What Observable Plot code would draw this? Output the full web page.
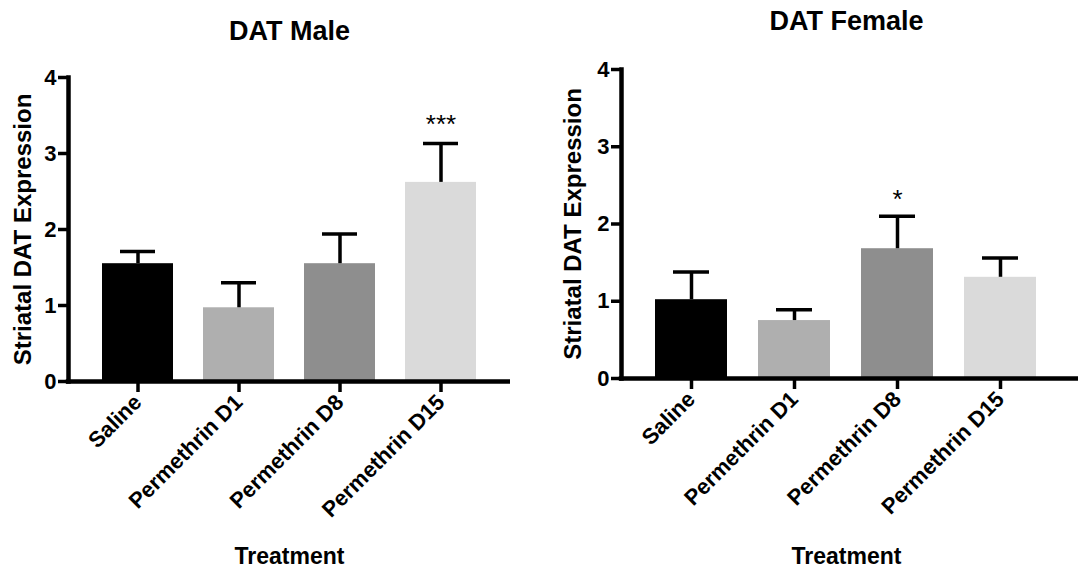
<!DOCTYPE html>
<html><head><meta charset="utf-8">
<script src="https://cdn.jsdelivr.net/npm/d3@7"></script>
<script src="https://cdn.jsdelivr.net/npm/@observablehq/plot@0.6"></script>
<style>
body{margin:0;width:1078px;height:567px;overflow:hidden;background:#fff;position:relative;font-family:"Liberation Sans",Arial,sans-serif}
#left{position:absolute;left:0;top:0}
#right{position:absolute;left:539px;top:0}
svg{overflow:visible}
</style></head><body>
<div id="left"></div><div id="right"></div>
<script>
const treatments = ["Saline", "Permethrin D1", "Permethrin D8", "Permethrin D15"];
const barColors = ["#000000", "#afafaf", "#8e8e8e", "#dadada"];
const maleMean = [1.55, 0.97, 1.55, 2.62];
const maleUpper = [1.71, 1.30, 1.94, 3.13];
const maleSig = ["", "", "", "***"];
const femaleMean = [1.02, 0.75, 1.68, 1.31];
const femaleUpper = [1.38, 0.89, 2.10, 1.56];
const femaleSig = ["", "", "*", ""];
const yTicks = [0, 1, 2, 3, 4];
const yLabel = "Striatal DAT Expression";
const xLabel = "Treatment";

function panel(title, means, uppers, sigs, L) {
  const data = treatments.map((t, i) => ({t, mean: means[i], upper: uppers[i], sig: sigs[i]}));
  const bold = {fontWeight: "bold"};
  return Plot.plot({
    width: L.width, height: 567,
    marginLeft: L.ml, marginRight: L.mr, marginTop: L.mt, marginBottom: L.mb,
    style: {fontFamily: "'Liberation Sans', Arial, sans-serif", background: "#fff", color: "#000", overflow: "visible"},
    x: {domain: treatments, paddingInner: L.pi, paddingOuter: L.po, label: null},
    y: {domain: [0, 4], label: null},
    color: {domain: treatments, range: barColors},
    marks: [
      Plot.barY(data, {x: "t", y: "mean", fill: "t"}),
      Plot.ruleX(data, {x: "t", y1: "mean", y2: "upper", stroke: "#000", strokeWidth: 3.5}),
      Plot.tickY(data, {x: "t", y: "upper", stroke: "#000", strokeWidth: 3.5, inset: 18}),
      Plot.text(data.filter(d => d.sig), {x: "t", y: "upper", text: "sig", dy: L.sigDy, fontSize: 26, fill: "#000"}),
      Plot.axisY({ticks: yTicks, tickFormat: d3.format("d"), tickSize: 10, tickPadding: 2, strokeWidth: 3.5, fontSize: 22, ...bold, label: null}),
      Plot.axisX({tickSize: 11, tickPadding: 6, strokeWidth: 3.5, tickRotate: -45, fontSize: 22, ...bold, label: null}),
      Plot.frame({anchor: "left", strokeWidth: 4.5, stroke: "#000"}),
      Plot.ruleY([0], {strokeWidth: 4.5, stroke: "#000", insetRight: -L.extend, insetLeft: -2.2}),
      Plot.text([title], {frameAnchor: "top", lineAnchor: "top", dy: L.titleDy, fontSize: 27, ...bold, fill: "#000"}),
      Plot.text([yLabel], {frameAnchor: "left", textAnchor: "middle", rotate: -90, dx: L.ylDx, fontSize: 24, ...bold, fill: "#000"}),
      Plot.text([xLabel], {frameAnchor: "bottom", lineAnchor: "top", dy: L.xlDy, fontSize: 23, ...bold, fill: "#000"})
    ]
  });
}

document.getElementById("left").append(panel("DAT Male", maleMean, maleUpper, maleSig,
  {width: 539, ml: 68, mr: 29, mt: 77, mb: 186, pi: 0.294, po: 0.314, sigDy: -19, titleDy: -57, ylDx: -45, xlDy: 166, extend: 0}));
document.getElementById("right").append(panel("DAT Female", femaleMean, femaleUpper, femaleSig,
  {width: 539, ml: 82, mr: 7, mt: 69, mb: 189, pi: 0.30, po: 0.32, sigDy: -17, titleDy: -59, ylDx: -48, xlDy: 169, extend: 10}));
</script>
</body></html>
